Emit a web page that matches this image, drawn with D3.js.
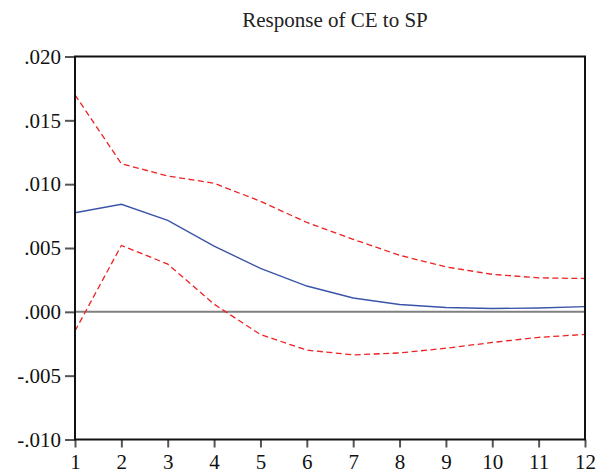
<!DOCTYPE html>
<html>
<head>
<meta charset="utf-8">
<script src="https://cdn.jsdelivr.net/npm/d3@7/dist/d3.min.js"></script>
<style>
  html, body { margin: 0; padding: 0; background: #fff; }
  svg { display: block; }
</style>
</head>
<body>
<svg id="chart" width="603" height="473"></svg>
<script>
const periods = [1, 2, 3, 4, 5, 6, 7, 8, 9, 10, 11, 12];
const response = [0.00776, 0.00842, 0.00717, 0.00515, 0.00340, 0.00202, 0.00108, 0.00057, 0.00034, 0.00026, 0.00030, 0.00041];
const upperBand = [0.01700, 0.01160, 0.01064, 0.01007, 0.00866, 0.00700, 0.00568, 0.00443, 0.00352, 0.00294, 0.00266, 0.00261];
const lowerBand = [-0.00150, 0.00520, 0.00374, 0.00060, -0.00178, -0.00300, -0.00337, -0.00322, -0.00285, -0.00240, -0.00200, -0.00177];
const yTicks = [-0.010, -0.005, 0.000, 0.005, 0.010, 0.015, 0.020];
const xTicks = [1, 2, 3, 4, 5, 6, 7, 8, 9, 10, 11, 12];
const title = "Response of CE to SP";

const svg = d3.select("#chart");
const L = 75, R = 585, T = 56.5, B = 439.5;
const x = d3.scaleLinear().domain([1, 12]).range([L, R]);
const y = d3.scaleLinear().domain([-0.010, 0.020]).range([B, T]);
const font = "'Liberation Serif', 'Times New Roman', serif";

const fmt = v => {
  const a = Math.abs(v) < 1e-12 ? 0 : v;
  const s = Math.abs(a).toFixed(3).replace(/^0\./, ".");
  return (a < 0 ? "-" : "") + s;
};

// title
svg.append("text")
  .attr("x", 335).attr("y", 27)
  .attr("text-anchor", "middle")
  .attr("font-family", font).attr("font-size", 21)
  .attr("fill", "#222")
  .text(title);

// zero line
svg.append("line")
  .attr("x1", L).attr("x2", R)
  .attr("y1", y(0)).attr("y2", y(0))
  .attr("stroke", "#808080").attr("stroke-width", 2);

// axes
const yAxis = d3.axisLeft(y).tickValues(yTicks).tickSize(10).tickPadding(4).tickFormat(fmt);
const gy = svg.append("g").attr("transform", `translate(${L},0)`).call(yAxis);
const xAxis = d3.axisBottom(x).tickValues(xTicks).tickSize(8).tickPadding(7).tickFormat(d3.format("d"));
const gx = svg.append("g").attr("transform", `translate(0,${B})`).call(xAxis);

[gy, gx].forEach(g => {
  g.select(".domain").remove();
  g.selectAll(".tick line").attr("stroke", "#555").attr("stroke-width", 2);
  g.selectAll(".tick text").attr("font-family", font).attr("font-size", 21).attr("fill", "#111");
});
gx.selectAll(".tick text").attr("dy", "0.71em");

// lines
const line = d3.line().x((d, i) => x(periods[i])).y(d => y(d));

svg.append("path").datum(upperBand)
  .attr("d", line).attr("fill", "none")
  .attr("stroke", "#ee2222").attr("stroke-width", 1.3)
  .attr("stroke-dasharray", "6,3.5");
svg.append("path").datum(lowerBand)
  .attr("d", line).attr("fill", "none")
  .attr("stroke", "#ee2222").attr("stroke-width", 1.3)
  .attr("stroke-dasharray", "6,3.5");
svg.append("path").datum(response)
  .attr("d", line).attr("fill", "none")
  .attr("stroke", "#3a55a8").attr("stroke-width", 1.4);

// frame
svg.append("rect")
  .attr("x", L).attr("y", T).attr("width", R - L).attr("height", B - T)
  .attr("fill", "none").attr("stroke", "#111").attr("stroke-width", 2);
</script>
</body>
</html>
